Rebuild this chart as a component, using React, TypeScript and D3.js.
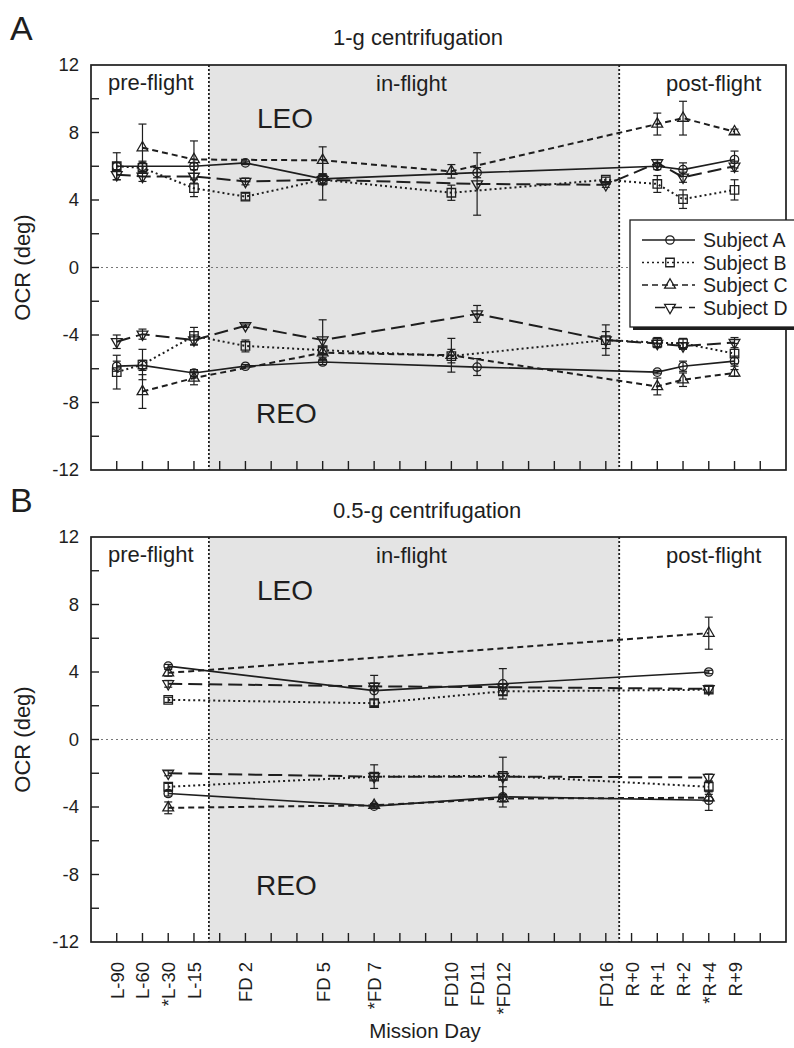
import React from 'react';
import * as d3 from 'd3';

// x positions: one tick per slot, only some slots carry a mission-day label
const tickLabels = ['L-90', 'L-60', '*L-30', 'L-15', '', 'FD 2', '', '', 'FD 5', '', '*FD 7', '', '', 'FD10', 'FD11', '*FD12', '', '', '', 'FD16', 'R+0', 'R+1', 'R+2', '*R+4', 'R+9', ''];
const yTickLabels = [-12, -8, -4, 0, 4, 8, 12];
const phaseBounds = [3.58, 19.52];
const subjects = ['Subject A', 'Subject B', 'Subject C', 'Subject D'];

// panel A: 1-g centrifugation
const daysA = ['L-90', 'L-60', 'L-15', 'FD 2', 'FD 5', 'FD10', 'FD11', 'FD16', 'R+1', 'R+2', 'R+9'];
const g1LeoA = [6.0, 6.0, 6.0, 6.2, 5.25, null, 5.62, null, 6.0, 5.8, 6.4];
const g1LeoAErr = [0.2, 0.3, 0.2, 0.1, 0.3, null, 0.3, null, 0.2, 0.4, 0.5];
const g1LeoB = [6.0, 5.9, 4.7, 4.2, 5.2, 4.43, null, 5.2, 4.95, 4.05, 4.6];
const g1LeoBErr = [0.8, 0.3, 0.5, 0.2, 0.3, 0.45, null, 0.15, 0.5, 0.55, 0.6];
const g1LeoC = [null, 7.1, 6.4, null, 6.35, 5.7, null, null, 8.5, 8.85, 8.05];
const g1LeoCErr = [null, 1.4, 1.1, null, 0.8, 0.4, null, null, 0.65, 1.0, 0.15];
const g1LeoD = [5.5, 5.4, 5.4, 5.1, 5.2, null, 4.95, 4.9, 6.2, 5.35, 6.0];
const g1LeoDErr = [0.3, 0.3, 0.4, 0.2, 1.2, null, 1.85, 0.15, 0.2, 0.3, 0.3];
const g1ReoA = [-5.85, -5.8, -6.25, -5.85, -5.6, null, -5.9, null, -6.2, -5.85, -5.55];
const g1ReoAErr = [0.3, 0.3, 0.2, 0.1, 0.15, null, 0.5, null, 0.1, 0.3, 0.3];
const g1ReoB = [-6.2, -5.75, -4.05, -4.65, -4.9, -5.25, null, -4.3, -4.45, -4.5, -5.1];
const g1ReoBErr = [1.0, 0.9, 0.5, 0.35, 0.2, 0.4, null, 0.5, 0.3, 0.3, 0.6];
const g1ReoC = [null, -7.35, -6.55, null, -5.05, -5.2, null, null, -7.05, -6.65, -6.25];
const g1ReoCErr = [null, 1.0, 0.4, null, 0.3, 1.0, null, null, 0.5, 0.4, 0.2];
const g1ReoD = [-4.4, -3.95, -4.3, -3.45, -4.3, null, -2.75, -4.3, -4.5, -4.65, -4.45];
const g1ReoDErr = [0.4, 0.3, 0.3, 0.1, 1.2, null, 0.5, 0.9, 0.2, 0.2, 0.3];

// panel B: 0.5-g centrifugation
const daysB = ['*L-30', '*FD 7', '*FD12', '*R+4'];
const g05LeoA = [4.35, 2.9, 3.3, 4.0];
const g05LeoAErr = [0.1, 0.9, 0.9, 0.1];
const g05LeoB = [2.35, 2.15, 2.85, 2.95];
const g05LeoBErr = [0.15, 0.2, 0.2, 0.2];
const g05LeoC = [3.95, null, null, 6.3];
const g05LeoCErr = [0.2, null, null, 0.95];
const g05LeoD = [3.3, 3.15, 3.1, 3.0];
const g05LeoDErr = [0.2, 0.2, 0.2, 0.2];
const g05ReoA = [-3.2, -3.95, -3.4, -3.6];
const g05ReoAErr = [0.15, 0.1, 0.6, 0.6];
const g05ReoB = [-2.8, -2.2, -2.15, -2.8];
const g05ReoBErr = [0.2, 0.7, 1.1, 0.3];
const g05ReoC = [-4.05, -3.9, -3.5, -3.45];
const g05ReoCErr = [0.35, 0.1, 0.2, 0.2];
const g05ReoD = [-2.0, -2.2, -2.2, -2.25];
const g05ReoDErr = [0.15, 0.2, 0.2, 0.2];

const font = "'Liberation Sans', Arial, Helvetica, sans-serif";
const ink = '#1e1e1e';
const dashes = ['none', '2,3', '6,4', '14,6'];
const symbols = [d3.symbolCircle, d3.symbolSquare, d3.symbolTriangle, d3.symbolTriangle];
const symbolSizes = [55, 72, 50, 50];
const rotations = [0, 0, 0, 180];

const left = 91, right = 786;
const x = d3.scaleLinear().domain([-1, 26]).range([left, right]);
const slot = (label: string) => tickLabels.indexOf(label);

type Series = { subj: number; vals: (number | null)[]; errs: (number | null)[] };

const Marker = ({ s, cx, cy }: { s: number; cx: number; cy: number }) => (
  <path
    d={d3.symbol().type(symbols[s]).size(symbolSizes[s])() || ''}
    transform={`translate(${cx},${cy}) rotate(${rotations[s]})`}
    fill="none"
    stroke={ink}
    strokeWidth={1.3}
  />
);

function Panel({ top, bottom, letter, title, titleY, days, series, labels, legend }: any) {
  const y = d3.scaleLinear().domain([-12, 12]).range([bottom, top]);
  const line = d3.line<[number, number]>().x(d => x(d[0])).y(d => y(d[1]));
  const txt = (t: number) => t + (top - 65);

  return (
    <g>
      <rect x={x(phaseBounds[0])} y={top} width={x(phaseBounds[1]) - x(phaseBounds[0])} height={bottom - top} fill="#e4e4e4" />
      <line x1={left} x2={right} y1={y(0)} y2={y(0)} stroke="#777" strokeWidth={1} strokeDasharray="2,3" />
      {phaseBounds.map((b, i) => (
        <line key={i} x1={x(b)} x2={x(b)} y1={top} y2={bottom} stroke={ink} strokeWidth={1.8} strokeDasharray="2,2" />
      ))}

      {series.map((sr: Series, k: number) => {
        const pts = sr.vals
          .map((v, i) => [slot(days[i]), v, sr.errs[i]] as [number, number | null, number | null])
          .filter(p => p[1] != null) as [number, number, number][];
        return (
          <g key={k}>
            <path d={line(pts.map(p => [p[0], p[1]] as [number, number])) || ''} fill="none" stroke={ink}
              strokeWidth={sr.subj === 0 ? 1.7 : 2} strokeDasharray={dashes[sr.subj]} />
            {pts.map((p, i) => (
              <g key={i} stroke={ink} strokeWidth={1.2}>
                <line x1={x(p[0])} x2={x(p[0])} y1={y(p[1] - p[2])} y2={y(p[1] + p[2])} />
                <line x1={x(p[0]) - 4} x2={x(p[0]) + 4} y1={y(p[1] - p[2])} y2={y(p[1] - p[2])} />
                <line x1={x(p[0]) - 4} x2={x(p[0]) + 4} y1={y(p[1] + p[2])} y2={y(p[1] + p[2])} />
              </g>
            ))}
            {pts.map((p, i) => <Marker key={'m' + i} s={sr.subj} cx={x(p[0])} cy={y(p[1])} />)}
          </g>
        );
      })}

      <rect x={left} y={top} width={right - left} height={bottom - top} fill="none" stroke={ink} strokeWidth={1.7} />
      {d3.range(0, 26).map(i => (
        <line key={'xt' + i} x1={x(i)} x2={x(i)} y1={bottom} y2={bottom - 9} stroke={ink} strokeWidth={1.4} />
      ))}
      {d3.range(-10, 12, 2).map(v => (
        <line key={'yt' + v} x1={left} x2={left + 8} y1={y(v)} y2={y(v)} stroke={ink} strokeWidth={1.4} />
      ))}

      <g fontFamily={font} fill={ink}>
        {yTickLabels.map(v => (
          <text key={v} x={79} y={y(v)} dy="0.35em" textAnchor="end" fontSize={18.5}>{v}</text>
        ))}
        <text transform={`translate(30,${(top + bottom) / 2}) rotate(-90)`} textAnchor="middle" fontSize={22}>OCR (deg)</text>
        <text x={10} y={txt(40)} fontSize={34}>{letter}</text>
        <text x={333} y={titleY} fontSize={22}>{title}</text>
        <text x={108} y={txt(90)} fontSize={22}>pre-flight</text>
        <text x={376} y={txt(91)} fontSize={22}>in-flight</text>
        <text x={666} y={txt(91)} fontSize={22}>post-flight</text>
        <text x={257} y={txt(128)} fontSize={28}>LEO</text>
        <text x={256} y={txt(423)} fontSize={28}>REO</text>
        {labels && tickLabels.map((t, i) => t && (
          <text key={'xl' + i} transform={`translate(${x(i) + 7},${bottom + 20}) rotate(-90)`} textAnchor="end" fontSize={18.5}>{t}</text>
        ))}
        {labels && <text x={425} y={1038} textAnchor="middle" fontSize={20.5}>Mission Day</text>}
      </g>

      {legend && (
        <g>
          <rect x={633} y={223} width={170} height={107} fill={ink} />
          <rect x={630} y={220} width={170} height={107} fill="#fff" stroke={ink} strokeWidth={1.3} />
          {subjects.map((s, i) => {
            const ly = 240 + i * 22.5;
            return (
              <g key={s}>
                <line x1={i === 3 ? 655 : 642} x2={695} y1={ly} y2={ly} stroke={ink} strokeWidth={1.6}
                  strokeDasharray={i === 3 ? '10,7' : dashes[i]} />
                <Marker s={i} cx={670} cy={ly} />
                <text x={703} y={ly + 7} fontFamily={font} fontSize={19.5} fill={ink}>{s}</text>
              </g>
            );
          })}
        </g>
      )}
    </g>
  );
}

export default function App() {
  const seriesA: Series[] = [
    { subj: 0, vals: g1LeoA, errs: g1LeoAErr }, { subj: 1, vals: g1LeoB, errs: g1LeoBErr },
    { subj: 2, vals: g1LeoC, errs: g1LeoCErr }, { subj: 3, vals: g1LeoD, errs: g1LeoDErr },
    { subj: 0, vals: g1ReoA, errs: g1ReoAErr }, { subj: 1, vals: g1ReoB, errs: g1ReoBErr },
    { subj: 2, vals: g1ReoC, errs: g1ReoCErr }, { subj: 3, vals: g1ReoD, errs: g1ReoDErr },
  ];
  const seriesB: Series[] = [
    { subj: 0, vals: g05LeoA, errs: g05LeoAErr }, { subj: 1, vals: g05LeoB, errs: g05LeoBErr },
    { subj: 2, vals: g05LeoC, errs: g05LeoCErr }, { subj: 3, vals: g05LeoD, errs: g05LeoDErr },
    { subj: 0, vals: g05ReoA, errs: g05ReoAErr }, { subj: 1, vals: g05ReoB, errs: g05ReoBErr },
    { subj: 2, vals: g05ReoC, errs: g05ReoCErr }, { subj: 3, vals: g05ReoD, errs: g05ReoDErr },
  ];
  return (
    <svg width={794} height={1048} style={{ position: 'absolute', left: 0, top: 0, background: '#fff' }}>
      <Panel top={65} bottom={470} letter="A" title="1-g centrifugation" titleY={45} days={daysA} series={seriesA} legend />
      <Panel top={537} bottom={942} letter="B" title="0.5-g centrifugation" titleY={518} days={daysB} series={seriesB} labels />
    </svg>
  );
}
